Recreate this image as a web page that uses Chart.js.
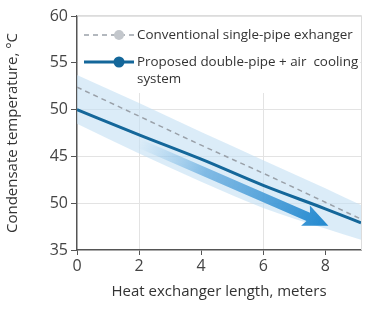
<!DOCTYPE html>
<html>
<head>
<meta charset="utf-8">
<script src="https://cdn.jsdelivr.net/npm/chart.js@4/dist/chart.umd.min.js"></script>
<style>
  html, body { margin: 0; padding: 0; background: #fff; }
  #wrap { width: 392px; height: 321px; }
</style>
</head>
<body>
<div id="wrap"><canvas id="chart" width="392" height="321"></canvas></div>
<script>
// values
const lengths = [0, 2, 4, 6, 8, 9.15]
const conventional = [52.4, 49.3, 46.2, 43.2, 40.1, 38.3]
const proposed = [50.0, 47.3, 44.7, 41.9, 39.4, 37.9]
const bandUpper = [53.7, 50.7, 47.6, 44.6, 41.6, 39.8]
const bandLower = [48.5, 45.3, 42.3, 39.5, 37.3, 36.1]
const yTickLabels = ['35', '50', '45', '50', '55', '60']
const arrowX = [2.0, 8.1]
const arrowY = [46.4, 37.6]
const legendLabels = [
  ['Conventional single-pipe exhanger'],
  ['Proposed double-pipe + air  cooling', 'system']
]

const FONT = '"Open Sans", "DejaVu Sans", sans-serif'
const darkBlue = '#14679a'
const dashGray = '#9aa1a9'

const pts = (ys) => lengths.map((x, i) => ({ x: x, y: ys[i] }))

// white panel behind legend, frame, arrow, legend text
const decor = {
  id: 'decor',
  beforeDatasetsDraw(chart) {
    let { ctx, chartArea: a } = chart
    ctx.save()
    ctx.fillStyle = '#fff'
    ctx.fillRect(a.left + 1, a.top + 1, a.right - a.left - 2, 76)
    ctx.strokeStyle = '#dcdcdc'
    ctx.lineWidth = 1
    ctx.beginPath()
    ctx.moveTo(a.left, a.top - 0.5)
    ctx.lineTo(a.right + 0.5, a.top - 0.5)
    ctx.lineTo(a.right + 0.5, a.bottom)
    ctx.stroke()
    ctx.restore()
  },
  afterDatasetsDraw(chart) {
    let { ctx, scales } = chart
    let x0 = scales.x.getPixelForValue(arrowX[0])
    let y0 = scales.y.getPixelForValue(arrowY[0])
    let x1 = scales.x.getPixelForValue(arrowX[1])
    let y1 = scales.y.getPixelForValue(arrowY[1])
    let ang = Math.atan2(y1 - y0, x1 - x0)
    let len = Math.hypot(x1 - x0, y1 - y0)
    ctx.save()
    ctx.translate(x0, y0)
    ctx.rotate(ang)
    let g = ctx.createLinearGradient(0, 0, len, 0)
    g.addColorStop(0, 'rgba(120,185,230,0)')
    g.addColorStop(0.35, 'rgba(90,165,220,0.7)')
    g.addColorStop(1, '#2389cf')
    ctx.fillStyle = g
    let hw = 4.5, hl = 22, hh = 11
    ctx.beginPath()
    ctx.moveTo(0, -hw)
    ctx.lineTo(len - hl, -hw)
    ctx.lineTo(len - hl - 3, -hh)
    ctx.lineTo(len, 0)
    ctx.lineTo(len - hl - 3, hh)
    ctx.lineTo(len - hl, hw)
    ctx.lineTo(0, hw)
    ctx.closePath()
    ctx.fill()
    ctx.restore()
  },
  afterDraw(chart) {
    let { ctx } = chart
    ctx.save()
    ctx.font = '13.4px ' + FONT
    ctx.fillStyle = '#333'
    ctx.textBaseline = 'middle'
    // conventional
    ctx.strokeStyle = dashGray
    ctx.lineWidth = 1.5
    ctx.setLineDash([5, 4])
    ctx.beginPath(); ctx.moveTo(84, 35); ctx.lineTo(134, 35); ctx.stroke()
    ctx.setLineDash([])
    ctx.fillStyle = '#c3c7cc'
    ctx.beginPath(); ctx.arc(119, 35, 5, 0, Math.PI * 2); ctx.fill()
    ctx.fillStyle = '#333'
    ctx.fillText(legendLabels[0][0], 137, 35)
    // proposed
    ctx.strokeStyle = darkBlue
    ctx.lineWidth = 3
    ctx.beginPath(); ctx.moveTo(84, 62); ctx.lineTo(134, 62); ctx.stroke()
    ctx.fillStyle = darkBlue
    ctx.beginPath(); ctx.arc(119, 62, 5.5, 0, Math.PI * 2); ctx.fill()
    ctx.fillStyle = '#333'
    ctx.fillText(legendLabels[1][0], 137, 62)
    ctx.fillText(legendLabels[1][1], 137, 79)
    ctx.restore()
  }
}

new Chart(document.getElementById('chart'), {
  type: 'line',
  data: {
    datasets: [
      {
        label: 'Conventional single-pipe exhanger',
        data: pts(conventional),
        borderColor: dashGray,
        borderWidth: 1.5,
        borderDash: [5, 4],
        pointRadius: 0,
        cubicInterpolationMode: 'monotone',
        order: 1
      },
      {
        label: 'Proposed double-pipe + air cooling system',
        data: pts(proposed),
        borderColor: darkBlue,
        borderWidth: 3,
        pointRadius: 0,
        cubicInterpolationMode: 'monotone',
        order: 0
      },
      {
        label: 'upper',
        data: pts(bandUpper),
        borderWidth: 0,
        pointRadius: 0,
        fill: false,
        cubicInterpolationMode: 'monotone',
        order: 3
      },
      {
        label: 'lower',
        data: pts(bandLower),
        borderWidth: 0,
        pointRadius: 0,
        fill: '-1',
        backgroundColor: 'rgba(195,223,243,0.6)',
        cubicInterpolationMode: 'monotone',
        order: 2
      }
    ]
  },
  options: {
    responsive: false,
    animation: false,
    layout: { padding: { top: 16, right: 31, bottom: 16, left: 0 } },
    plugins: { legend: { display: false }, tooltip: { enabled: false } },
    scales: {
      x: {
        type: 'linear',
        min: 0,
        max: 9.15,
        afterBuildTicks(s) { s.ticks = [0, 2, 4, 6, 8].map(v => ({ value: v })) },
        afterFit(s) { s.height = 55 },
        border: { color: '#555', width: 1.5 },
        grid: {
          color: (c) => (c.tick && (c.tick.value === 2 || c.tick.value === 6)) ? '#e3e3e3' : 'rgba(0,0,0,0)',
          tickColor: '#555',
          tickLength: 5,
          drawOnChartArea: true
        },
        ticks: { color: '#444', font: { size: 16, family: FONT }, padding: 2 },
        title: {
          display: true,
          text: 'Heat exchanger length, meters',
          color: '#333',
          font: { size: 15, family: FONT },
          padding: { top: 6 }
        }
      },
      y: {
        type: 'linear',
        min: 35,
        max: 60,
        afterFit(s) { s.width = 77 },
        border: { color: '#555', width: 1.5 },
        grid: {
          color: (c) => (c.tick && c.tick.value > 35) ? '#e3e3e3' : 'rgba(0,0,0,0)',
          tickColor: '#555',
          tickLength: 6
        },
        ticks: {
          stepSize: 5,
          color: '#444',
          font: { size: 16, family: FONT },
          padding: 3,
          callback: (v) => yTickLabels[Math.round((v - 35) / 5)]
        },
        title: {
          display: true,
          text: 'Condensate temperature, °C',
          color: '#333',
          font: { size: 15, family: FONT },
          padding: { bottom: 2 }
        }
      }
    }
  },
  plugins: [decor]
})
</script>
</body>
</html>
